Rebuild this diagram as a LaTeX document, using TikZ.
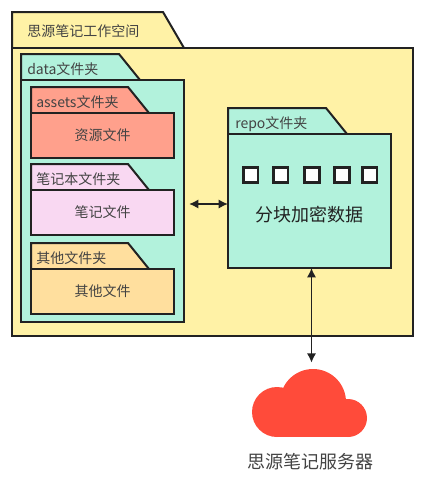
\documentclass[tikz,border=0pt]{standalone}
\usepackage{fontspec}
\setmainfont{Noto Sans CJK SC}
\usepackage{xcolor}
\usetikzlibrary{arrows.meta,positioning}
\definecolor{ink}{HTML}{222222}
\definecolor{wsyellow}{HTML}{FFF2A6}
\definecolor{mint}{HTML}{B2F2DC}
\definecolor{salmon}{HTML}{FFA08C}
\definecolor{notepink}{HTML}{F9D8F2}
\definecolor{otherorange}{HTML}{FFDF9E}
\definecolor{cloudred}{HTML}{FF4B3A}
\begin{document}
\begin{tikzpicture}[
    x=0.75pt,y=-0.75pt,
    body/.style={draw=ink,line width=1.5pt,anchor=north west,inner sep=0pt,outer sep=0pt,font=\fontsize{10.5}{12}\selectfont,text=ink!85},
    tabshape/.style={draw=ink,line width=1.5pt,line join=miter},
    tablabel/.style={anchor=west,inner sep=0pt,font=\fontsize{10.5}{12}\selectfont,text=ink!85},
    block/.style={draw=ink,line width=2pt,fill=white,minimum size=11pt,inner sep=0pt},
    arrow/.style={{Latex[length=7pt,width=7pt]}-{Latex[length=7pt,width=7pt]},line width=1.4pt,color=ink}
  ]
    \useasboundingbox (0,0) rectangle (426,479);
    % workspace
    \draw[tabshape,fill=wsyellow] (12,48) -- (12,12) -- (163,12) -- (184,48) -- cycle;
    \node[body,fill=wsyellow,minimum width=300.75pt,minimum height=216pt] (workspace) at (12,48) {};
    \node[tablabel] (workspacelabel) at (27,31) {思源笔记工作空间};
    % data
    \draw[tabshape,fill=mint] (21,80) -- (21,54) -- (119,54) -- (140,80) -- cycle;
    \node[body,fill=mint,minimum width=122.25pt,minimum height=181.5pt] (data) at (21,80) {};
    \node[tablabel] (datalabel) at (27,69) {data文件夹};
    % assets
    \draw[tabshape,fill=salmon] (31,113) -- (31,87) -- (128,87) -- (149,113) -- cycle;
    \node[body,fill=salmon,minimum width=107.25pt,minimum height=33.75pt] (assets) at (31,113) {资源文件};
    \node[tablabel] (assetslabel) at (36,102) {assets文件夹};
    % notes
    \draw[tabshape,fill=notepink] (31,190) -- (31,164) -- (128,164) -- (149,190) -- cycle;
    \node[body,fill=notepink,minimum width=107.25pt,minimum height=33.75pt] (notes) at (31,190) {笔记文件};
    \node[tablabel] (noteslabel) at (36,179) {笔记本文件夹};
    % other
    \draw[tabshape,fill=otherorange] (31,269) -- (31,243) -- (128,243) -- (149,269) -- cycle;
    \node[body,fill=otherorange,minimum width=107.25pt,minimum height=33.75pt] (other) at (31,269) {其他文件};
    \node[tablabel] (otherlabel) at (36,258) {其他文件夹};
    % repo
    \draw[tabshape,fill=mint] (228,134) -- (228,108) -- (326,108) -- (347,134) -- cycle;
    \node[body,fill=mint,minimum width=122.25pt,minimum height=100.5pt] (repo) at (228,134) {};
    \node[tablabel] (repolabel) at (235,124) {repo文件夹};
    \foreach \name/\xpos in {a/250.5,b/280.5,c/312,d/342,e/369.5}
      \node[block] (block\name) at (\xpos,175) {};
    \node[font=\fontsize{13.5}{16}\selectfont,text=ink] (repotext) at (309,215) {分块加密数据};
    % server
    \fill[cloudred] (277,412) circle [radius=25];
    \fill[cloudred] (313,402) circle [radius=33];
    \fill[cloudred] (348,418) circle [radius=19];
    \fill[cloudred] (277,412) rectangle (348,437);
    \node[minimum width=86.25pt,minimum height=51pt,inner sep=0pt] (cloud) at (309.5,403) {};
    \node[font=\fontsize{13.5}{16}\selectfont,text=ink!85] (serverlabel) at (310,462) {思源笔记服务器};
    \draw[arrow,shorten <=3.75pt] ([yshift=-2.25pt]data.east) -- ([yshift=-2.25pt]repo.west);
    \draw[arrow,shorten >=4.5pt] ([xshift=1.5pt]repo.south) -- ([xshift=1.5pt]cloud.north);
  \end{tikzpicture}
\end{document}
